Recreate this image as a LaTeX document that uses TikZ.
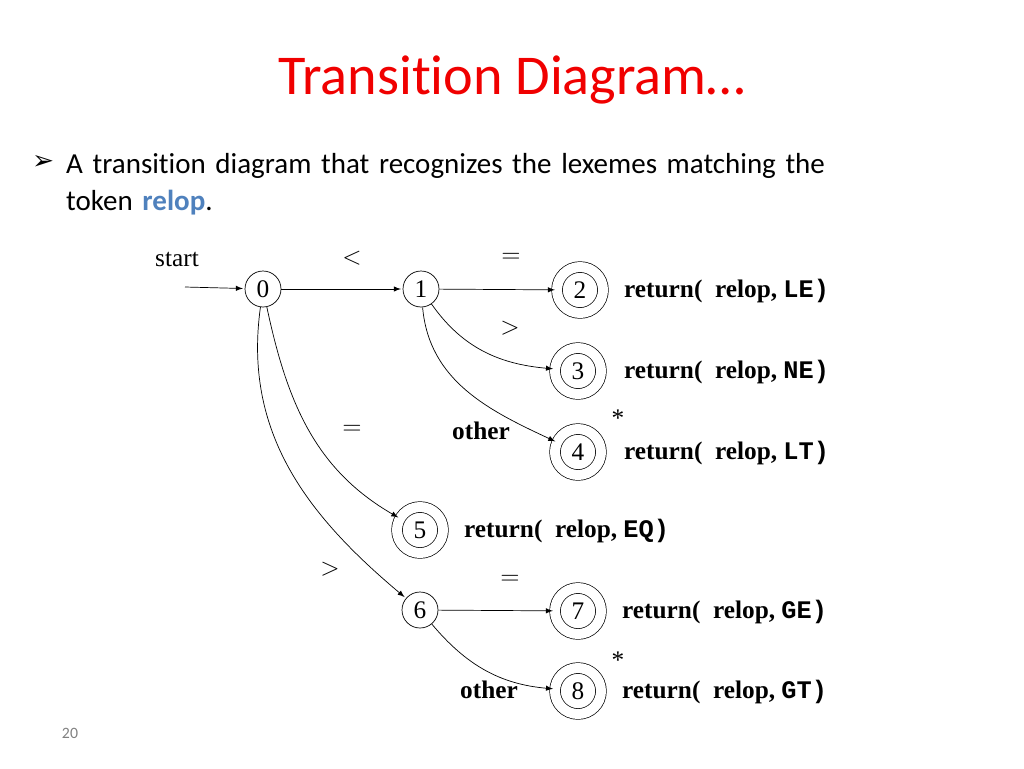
\documentclass[tikz,border=0pt]{standalone}
\usepackage{fontspec}
\setmainfont[Ligatures={NoCommon,NoRare}]{Carlito}
\newfontfamily\diagfont{Liberation Serif}
\newfontfamily\codefont{Liberation Mono}
\newfontfamily\symfont{DejaVu Sans}
\usetikzlibrary{automata, positioning, arrows}
\definecolor{titlered}{RGB}{240,0,0}
\definecolor{relopblue}{RGB}{79,129,189}
\newcommand{\ret}[1]{{\diagfont\bfseries return(\ \ relop,}\ {\codefont\bfseries #1)}}

\begin{document}
\begin{tikzpicture}[x=0.02cm, y=-0.02cm, >=latex, shorten >=1pt, auto,
    st/.style={state, minimum size=0.72cm, inner sep=0pt, font=\diagfont\Large, thin},
    acc/.style={st, minimum size=0.92cm, double, double distance=0.2cm},
    lbl/.style={font=\diagfont\bfseries\Large, anchor=west},
    edgelbl/.style={font=\diagfont\Large}]
    \useasboundingbox (0,0) rectangle (1024,768);
    \node[font=\fontsize{32}{38}\selectfont, text=titlered] (title) at (512,80) {Transition Diagram\dots};
    \node[anchor=west, font=\symfont\fontsize{15}{18}\selectfont] (bul) at (26,162) {➢};
    \node[anchor=west, font=\fontsize{16.5}{21}\selectfont, align=left, text width=19cm] (txt) at (60,184)
        {A transition diagram that recognizes the lexemes matching the\\token \textbf{\textcolor{relopblue}{relop}}.};
    \node[font=\small, text=gray] (page) at (70,733) {20};

    \node[st] (q0) at (263,289) {0};
    \node[st] (q1) at (421,289) {1};
    \node[acc] (q2) at (580,290) {2};
    \node[acc] (q3) at (578,371) {3};
    \node[acc] (q4) at (578,452) {4};
    \node[acc] (q5) at (420,530) {5};
    \node[st] (q6) at (420,610) {6};
    \node[acc] (q7) at (578,611) {7};
    \node[acc] (q8) at (578,691) {8};
    \coordinate (s) at (185,287);

    \node[lbl] (r2) at (618,291) {\ret{LE}};
    \node[lbl] (r3) at (618,372) {\ret{NE}};
    \node[lbl] (r4) at (618,453) {\ret{LT}};
    \node[lbl] (r5) at (458,531) {\ret{EQ}};
    \node[lbl] (r7) at (616,612) {\ret{GE}};
    \node[lbl] (r8) at (616,692) {\ret{GT}};

    \node[edgelbl] (lstart) at (177,259) {start};
    \node[edgelbl] (l01) at (352,258) {$<$};
    \node[edgelbl] (l12) at (511,258) {$=$};
    \node[edgelbl] (l13) at (510,328) {$>$};
    \node[edgelbl, font=\diagfont\bfseries\Large] (l14) at (481,431) {other};
    \node[edgelbl] (st4) at (618,418) {*};
    \node[edgelbl] (l05) at (352,430) {$=$};
    \node[edgelbl] (l06) at (330,569) {$>$};
    \node[edgelbl] (l67) at (510,580) {$=$};
    \node[edgelbl, font=\diagfont\bfseries\Large] (l68) at (489,690) {other};
    \node[edgelbl] (st8) at (618,660) {*};

    \path[->]
        (s) edge (q0)
        (q0) edge (q1)
        (q1) edge (q2)
        (q1) edge[out=-55, in=175] (q3)
        (q1) edge[out=-85, in=155] (q4)
        (q0) edge[out=-78, in=150] (q5)
        (q0) edge[out=-98, in=140] (q6)
        (q6) edge (q7)
        (q6) edge[out=-50, in=175] (q8);
\end{tikzpicture}
\end{document}
